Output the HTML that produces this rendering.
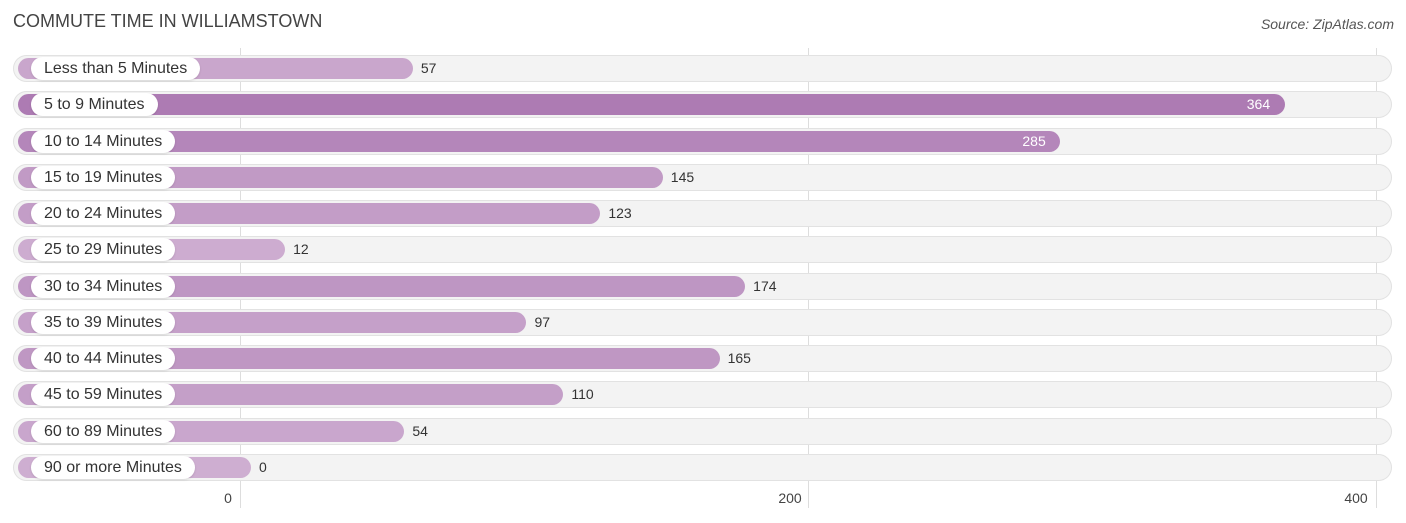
<!DOCTYPE html>
<html><head><meta charset="utf-8"><style>
body{margin:0;background:#fff;font-family:"Liberation Sans",sans-serif;}
#c{position:relative;width:1406px;height:523px;overflow:hidden;}
.t{position:absolute;left:13px;top:11px;font-size:18px;color:#444;}
.s{position:absolute;right:12px;top:16px;font-size:14px;color:#555;font-style:italic;}
.grid{position:absolute;top:48px;height:460px;width:1px;background:#ddd;}
.tick{position:absolute;top:490px;font-size:14px;color:#444;transform:translateX(-50%);}
.row{position:absolute;left:13px;width:1379px;height:27px;border-radius:14px;background:#f3f3f3;box-shadow:inset 0 0 0 1px #e2e2e2;}
.bar{position:absolute;left:5px;top:3px;height:21px;border-radius:11px;}
.pill{position:absolute;left:18px;top:2px;height:23px;border-radius:12px;background:#fff;font-size:16px;color:#333;line-height:23px;padding:0 13px;box-shadow:0 1px 2px rgba(0,0,0,.12);}
.val{position:absolute;top:5px;font-size:14px;color:#333;}
.val.in{color:#fff;}
</style></head><body>
<div id="c">
<div class="t">COMMUTE TIME IN WILLIAMSTOWN</div>
<div class="s">Source: ZipAtlas.com</div>
</div>
<script>
const categories=["Less than 5 Minutes","5 to 9 Minutes","10 to 14 Minutes","15 to 19 Minutes","20 to 24 Minutes","25 to 29 Minutes","30 to 34 Minutes","35 to 39 Minutes","40 to 44 Minutes","45 to 59 Minutes","60 to 89 Minutes","90 or more Minutes"];
const values=[57,364,285,145,123,12,174,97,165,110,54,0];
const ticks=[0,200,400];
const c=document.getElementById('c');
const gx=v=>240+v*2.84;
const maxV=Math.max(...values);
ticks.forEach(t=>{
 const g=document.createElement('div');g.className='grid';g.style.left=gx(t)+'px';
 
 
 c.appendChild(g);
});
categories.forEach((cat,i)=>{
 const v=values[i];
 const r=document.createElement('div');r.className='row';r.style.top=(55+i*36.27)+'px';
 
 
 const b=document.createElement('div');b.className='bar';
 const w=gx(v)+11-13-5;b.style.width=w+'px';
 const f=v/maxV;
 const col=[Math.round(206-33*f),Math.round(174-51*f),Math.round(209-30*f)];
 b.style.background=`rgb(${col})`;
 
 
 r.appendChild(b);
 const p=document.createElement('div');p.className='pill';p.textContent=cat;
 
 
 r.appendChild(p);
 const l=document.createElement('div');l.textContent=v;
 
 
 if(v>250){l.className='val in';l.style.left=(w+5-38)+'px';}
 else{l.className='val';l.style.left=(w+5+8)+'px';}
 r.appendChild(l);
 c.appendChild(r);
});
ticks.forEach(t=>{
 const k=document.createElement('div');k.className='tick';k.textContent=t;
 k.style.left=(gx(t)-(t===0?12:t===400?20:18)+ (t===0?0:0))+'px';
 
 
 c.appendChild(k);
});
</script>
</body></html>
